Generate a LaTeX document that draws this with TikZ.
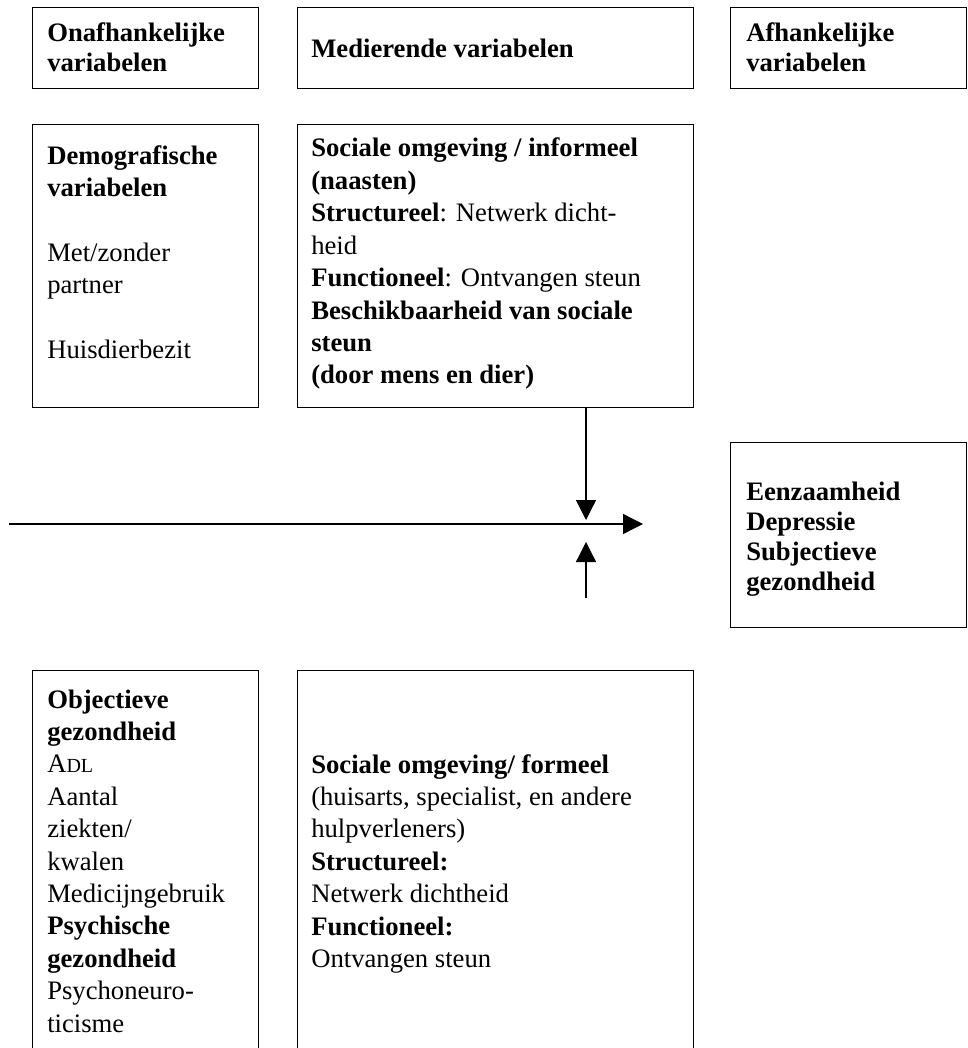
\documentclass[tikz,border=0pt]{standalone}
\usepackage{fontspec}
\setmainfont{Liberation Serif}
\usetikzlibrary{arrows.meta}

\tikzset{
  box/.style={draw, line width=1.1pt, anchor=north west, inner sep=0pt},
  txt/.style={anchor=base west, align=left, inner sep=0pt, font=\fontsize{20}{24.3}\selectfont},
  kop/.style={txt, font=\fontsize{20}{22.5}\selectfont\bfseries},
  pijl/.style={line width=1pt, -{Triangle[width=15pt,length=15pt]}}
}

\begin{document}
\begin{tikzpicture}[x=0.75pt, y=-0.75pt]
    \useasboundingbox (0,0) rectangle (967,1048);

    % kopjes (tekst staat op de basislijn van de laatste regel)
    \node[box, minimum width=169.5pt, minimum height=60.75pt] (onafh) at (32,7) {};
    \node[box, minimum width=297pt, minimum height=60.75pt] (medi) at (297,7) {};
    \node[box, minimum width=177pt, minimum height=60.75pt] (afh) at (730,7) {};
    \node[kop] (onafhtxt) at (47,72) {Onafhankelijke\\variabelen};
    \node[kop] (meditxt) at (311,58) {Medierende variabelen};
    \node[kop] (afhtxt) at (746,72) {Afhankelijke\\variabelen};

    % middelste rij
    \node[box, minimum width=169.5pt, minimum height=212.25pt] (demo) at (32,124) {};
    \node[box, minimum width=297pt, minimum height=212.25pt] (informeel) at (297,124) {};
    \node[txt] (demotxt) at (47,358.4) {\textbf{Demografische}\\\textbf{variabelen}\\[24.3pt]
      Met/zonder\\partner\\[24.3pt]Huisdierbezit};
    \node[txt] (informeeltxt) at (311,383.8) {\textbf{Sociale omgeving / informeel}\\
      \textbf{(naasten)}\\
      \textbf{Structureel}: Netwerk dicht-\\heid\\
      \textbf{Functioneel}: Ontvangen steun\\
      \textbf{Beschikbaarheid van sociale}\\\textbf{steun}\\
      \textbf{(door mens en dier)}};

    % uitkomsten
    \node[box, minimum width=177pt, minimum height=138.75pt] (uitkomst) at (730,442) {};
    \node[kop] (uitkomsttxt) at (746,590) {Eenzaamheid\\Depressie\\Subjectieve\\gezondheid};

    % onderste rij
    \node[box, minimum width=169.5pt, minimum height=315pt] (gezond) at (32,670) {};
    \node[box, minimum width=297pt, minimum height=315pt] (formeel) at (297,670) {};
    \node[txt] (gezondtxt) at (47,1032) {\textbf{Objectieve}\\\textbf{gezondheid}\\
      A{\fontsize{15}{15}\selectfont DL}\\Aantal\\ziekten/\\kwalen\\Medicijngebruik\\
      \textbf{Psychische}\\\textbf{gezondheid}\\Psychoneuro-\\ticisme};
    \node[txt] (formeeltxt) at (311,967.4) {\textbf{Sociale omgeving/ formeel}\\
      (huisarts, specialist, en andere\\hulpverleners)\\
      \textbf{Structureel:}\\Netwerk dichtheid\\
      \textbf{Functioneel:}\\Ontvangen steun};

    % pijlen
    \coordinate (links) at (9,524);
    \coordinate (rechts) at (643,524);
    \coordinate (neer) at (586,520);
    \coordinate (op) at (586,542);
    \coordinate (voet) at (586,598);
    \draw[pijl] (links) -- (rechts);
    \draw[pijl] (informeel.south -| neer) -- (neer);
    \draw[pijl] (voet) -- (op);
\end{tikzpicture}
\end{document}
